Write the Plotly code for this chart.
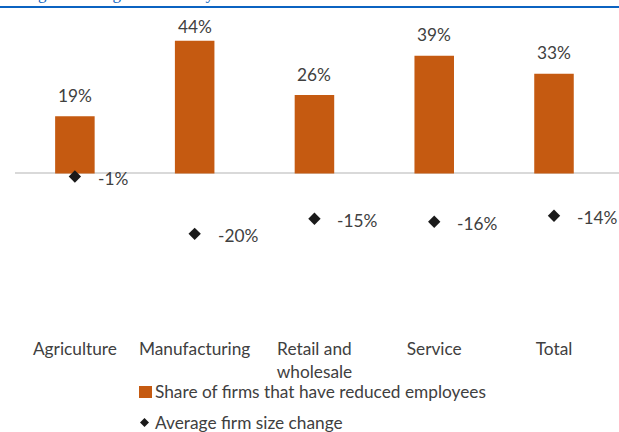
import plotly.graph_objects as go

# ---- data -------------------------------------------------------------
categories = ["Agriculture", "Manufacturing", "Retail and<br>wholesale", "Service", "Total"]
share_reduced = [19, 44, 26, 39, 33]          # % of firms that reduced employees
size_change = [-1, -20, -15, -16, -14]        # % change in average firm size
series_names = ["Share of firms that have reduced employees", "Average firm size change"]
title_text = "Change in average firm size by sector"

# ---- geometry ---------------------------------------------------------
W, H = 619, 432
M_L, M_R, M_T, M_B = 15, 0, 15, 97
Y_MIN, Y_MAX = -53.5, 52.5
plot_w = W - M_L - M_R
plot_h = H - M_T - M_B
px_per_unit = plot_h / (Y_MAX - Y_MIN)
zero_px = M_T + Y_MAX * px_per_unit


def paper_x(px):
    return (px - M_L) / plot_w


def paper_y(py):
    return (H - M_B - py) / plot_h


ORANGE = "#C55A11"
INK = "#1A1A1A"
TEXT = "#404040"
BLUE = "#0B63C1"
FONT = "Lato"
FS = 17.3

fig = go.Figure()
fig.add_bar(
    x=categories, y=share_reduced, width=0.33, name=series_names[0],
    marker=dict(color=ORANGE, line=dict(width=0)), showlegend=False,
)
fig.add_scatter(
    x=categories, y=size_change, mode="markers", name=series_names[1],
    marker=dict(symbol="diamond", size=9.5, color=INK), showlegend=False,
)

# value labels above the bars (kept inside the chart area at the top)
top_label_limit = (zero_px - 26) / px_per_unit
for c, v in zip(categories, share_reduced):
    fig.add_annotation(
        x=c, y=min(v + 21 / px_per_unit, top_label_limit), text=f"{v}%",
        showarrow=False, yanchor="middle",
        font=dict(family=FONT, size=FS, color=TEXT),
    )

# value labels to the right of the diamonds
for c, v in zip(categories, size_change):
    fig.add_annotation(
        x=c, y=v, text=f"{v}%", showarrow=False, xanchor="left", yanchor="middle",
        xshift=21, yshift=-2, font=dict(family=FONT, size=FS, color=TEXT),
    )

# title (runs off the top edge) and its rule
fig.add_annotation(
    xref="paper", yref="paper", x=paper_x(0), y=paper_y(4.5), xanchor="left", yanchor="bottom",
    text=title_text, showarrow=False, font=dict(family="Liberation Serif", size=17, color=BLUE),
)
fig.add_shape(
    type="line", xref="paper", yref="paper", x0=paper_x(0), x1=paper_x(W), y0=paper_y(7), y1=paper_y(7),
    line=dict(color=BLUE, width=2.2),
)

# legend
fig.add_shape(
    type="rect", xref="paper", yref="paper",
    x0=paper_x(139), x1=paper_x(152), y0=paper_y(398), y1=paper_y(386),
    fillcolor=ORANGE, line=dict(width=0),
)
fig.add_annotation(
    xref="paper", yref="paper", x=paper_x(153), y=paper_y(391.5), xanchor="left", yanchor="middle",
    text=series_names[0], showarrow=False, font=dict(family=FONT, size=FS, color=TEXT),
)
fig.add_shape(
    type="path", xref="paper", yref="paper", xsizemode="pixel", ysizemode="pixel",
    xanchor=paper_x(144.5), yanchor=paper_y(422.5),
    path="M0,4.5 L4.5,0 L0,-4.5 L-4.5,0 Z", fillcolor=INK, line=dict(width=0),
)
fig.add_annotation(
    xref="paper", yref="paper", x=paper_x(153), y=paper_y(422), xanchor="left", yanchor="middle",
    text=series_names[1], showarrow=False, font=dict(family=FONT, size=FS, color=TEXT),
)

fig.update_layout(
    width=W, height=H, margin=dict(l=M_L, r=M_R, t=M_T, b=M_B),
    paper_bgcolor="white", plot_bgcolor="white", showlegend=False,
    font=dict(family=FONT, size=FS, color=TEXT),
)
fig.update_xaxes(
    showgrid=False, showline=False, ticks="", ticklabelstandoff=2,
    tickfont=dict(family=FONT, size=FS, color=TEXT),
)
fig.update_yaxes(
    range=[Y_MIN, Y_MAX], showgrid=False, showticklabels=False, ticks="",
    zeroline=True, zerolinecolor="#D9D9D9", zerolinewidth=1.5,
)

fig.write_html("out.html")
